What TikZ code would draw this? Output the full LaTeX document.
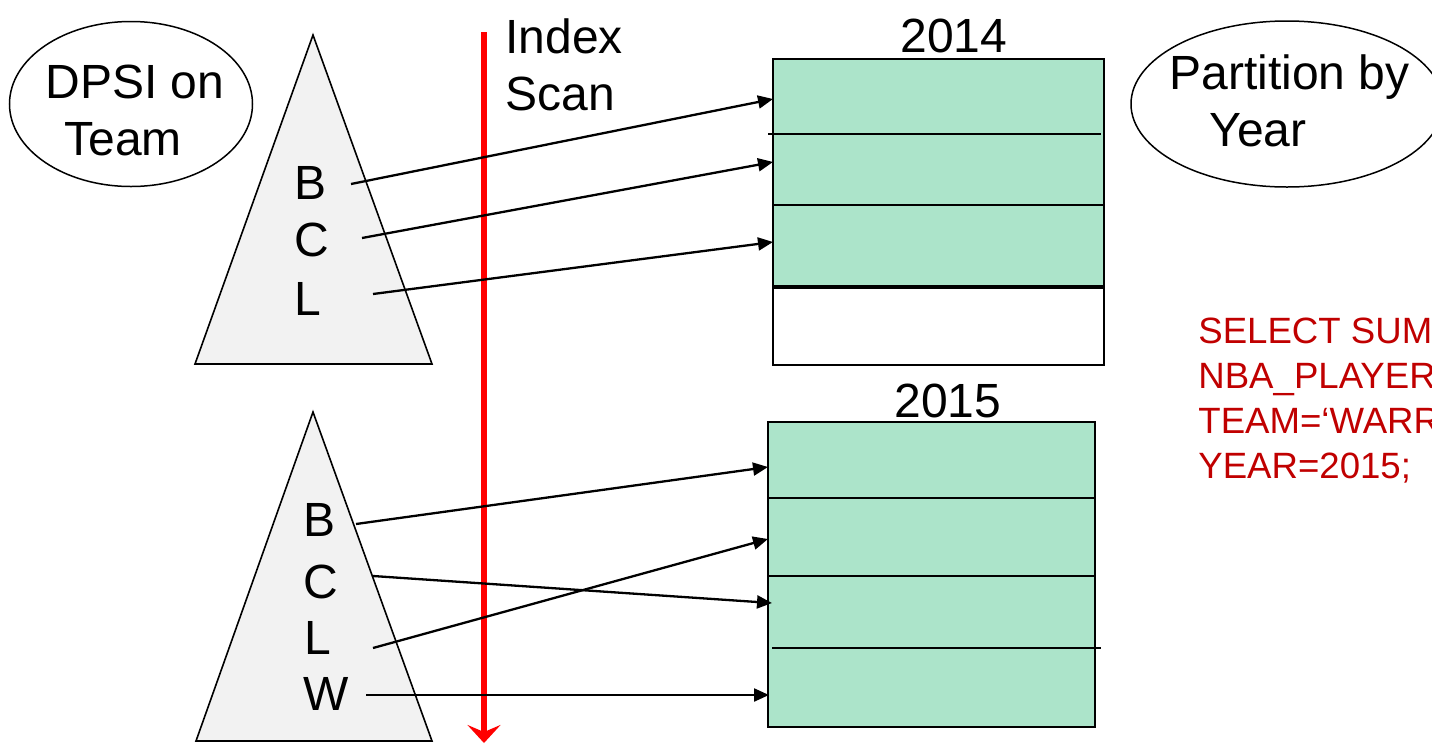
\documentclass[tikz,border=0pt]{standalone}
\usepackage{fontspec}
\setmainfont{Liberation Sans}
\usetikzlibrary{arrows.meta,shapes.geometric}

\definecolor{rowgreen}{RGB}{172,228,202}
\definecolor{treegray}{RGB}{242,242,242}
\definecolor{sqlred}{RGB}{192,0,0}

\begin{document}
\begin{tikzpicture}[>={Triangle[length=7.5pt,width=6.5pt]},x=0.5pt,y=-0.5pt,
  big text/.style={inner sep=0pt,font=\fontsize{24}{28.5}\selectfont},
  key node/.style={big text},
  tag node/.style={ellipse,draw,line width=0.75pt,inner sep=0pt},
  tree/.style={draw,fill=treegray,line width=0.8pt},
  part box/.style={draw,fill=rowgreen,line width=1pt},
  row line/.style={draw,line width=0.7pt},
  scan line/.style={draw=red,line width=2.8pt,-{Stealth[length=9pt,width=16.5pt,inset=3.5pt]}}]

  \useasboundingbox (0,0) rectangle (1432,745);
  \clip (0,0) rectangle (1432,745);

  % index scan
  \coordinate (scan top) at (484,32);
  \coordinate (scan end) at (484,743);
  \draw[scan line] (scan top) -- (scan end);
  \node[big text,anchor=west,align=left] (scan text) at (505,65) {Index\\Scan};

  % the two index trees
  \draw[tree] (313,35) -- (432,364) -- (195,364) -- cycle;
  \draw[tree] (313,412) -- (432,741) -- (196,741) -- cycle;

  \node[tag node,minimum width=121.5pt,minimum height=82.5pt] (dpsi) at (131,104) {};
  \node[big text,anchor=west,align=left] (dpsi text) at (45,110.5) {DPSI on\\\hspace*{9.5pt}Team};
  \node[tag node,minimum width=156pt,minimum height=83pt] (part) at (1287,104) {};
  \node[big text,anchor=west,align=left] (part text) at (1169,100.5) {Partition by\\\hspace*{20pt}Year};

  \node[key node] (B14) at (311,182.5) {B};
  \node[key node] (C14) at (312,239.5) {C};
  \node[key node] (L14) at (308,298.5) {L};
  \node[key node] (B15) at (320,520) {B};
  \node[key node] (C15) at (321,581.5) {C};
  \node[key node] (L15) at (317.5,637.5) {L};
  \node[key node] (W15) at (326,693.5) {W};

  % partitions
  \node[big text] (y2014) at (954,35.5) {2014};
  \draw[part box] (773,59) rectangle (1104,286);
  \draw[draw,line width=1pt] (773,288) rectangle (1104,365);
  \draw[row line] (768,134) -- (1101,134);
  \draw[row line] (772,205) -- (1105,205);

  \node[big text] (y2015) at (948,401) {2015};
  \draw[part box] (768,422) rectangle (1095,727);
  \draw[row line] (768,498) -- (1096,498);
  \draw[row line] (768,576) -- (1096,576);
  \draw[row line] (772,648) -- (1101,648);

  \node[inner sep=0pt,anchor=west,align=left,text=sqlred,
    font=\fontsize{18.3}{22.5}\selectfont] (sql) at (1198,401)
    {SELECT SUM\\NBA\_PLAYER\\TEAM=‘WARR\\YEAR=2015;};

  \coordinate (B14s) at (351,184);
  \coordinate (C14s) at (362,238);
  \coordinate (L14s) at (373,294);
  \coordinate (B15s) at (356,524);
  \coordinate (C15s) at (373,576);
  \coordinate (L15s) at (373,648);
  \coordinate (W15s) at (366,695);
  \coordinate (r14a) at (773,99);
  \coordinate (r14b) at (773,162);
  \coordinate (r14c) at (773,242);
  \coordinate (r15a) at (768,467);
  \coordinate (r15b) at (768,539);
  \coordinate (r15c) at (772,603);
  \coordinate (r15d) at (769,695);

  \path[->,line width=1.15pt]
    (B14s) edge (r14a)
    (C14s) edge (r14b)
    (L14s) edge (r14c)
    (B15s) edge (r15a)
    (C15s) edge (r15c)
    (L15s) edge (r15b)
    (W15s) edge (r15d);

\end{tikzpicture}
\end{document}
